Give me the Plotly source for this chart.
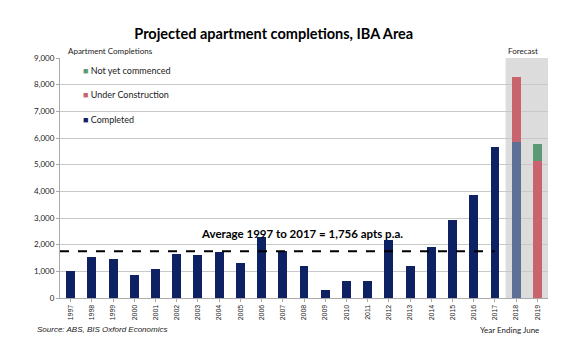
import plotly.graph_objects as go

years = [str(y) for y in range(1997, 2020)]
completed = [1030, 1550, 1450, 870, 1080, 1650, 1620, 1720, 1320, 2280, 1780, 1200,
             300, 620, 620, 2180, 1200, 1920, 2920, 3870, 5680, 5850, 0]
under_construction = [0] * 21 + [2450, 5150]
not_commenced = [0] * 21 + [0, 620]
average = 1756
y_ticks = [0, 1000, 2000, 3000, 4000, 5000, 6000, 7000, 8000, 9000]

navy = "#0d2163"
red = "#c9636d"
green = "#5b9a76"
completed_colors = [navy] * 21 + ["#5d7197", navy]

FONT = "Lato"

fig = go.Figure()
fig.add_trace(go.Bar(x=years, y=completed, name="Completed", showlegend=False,
                     marker=dict(color=completed_colors, line=dict(width=0))))
fig.add_trace(go.Bar(x=years, y=under_construction, name="Under Construction", showlegend=False,
                     marker=dict(color=red, line=dict(width=0))))
fig.add_trace(go.Bar(x=years, y=not_commenced, name="Not yet commenced", showlegend=False,
                     marker=dict(color=green, line=dict(width=0))))

# Forecast shading
fig.add_shape(type="rect", xref="x", yref="paper", x0=20.5, x1=22.5, y0=0, y1=1,
              fillcolor="#dcdcdc", line=dict(width=0), layer="below")
# Average line
fig.add_shape(type="line", xref="x", yref="y", x0=-0.5, x1=20, y0=average, y1=average,
              line=dict(color="black", width=2, dash="dash"))

# Legend as annotations (small square keys, widely spaced)
legend_items = [("Not yet commenced", green), ("Under Construction", red), ("Completed", navy)]
for i, (label, col) in enumerate(legend_items):
    fig.add_annotation(text=f"<span style='color:{col}'>■</span> {label}", xref="paper", yref="paper",
                       x=0.043, y=(298 - 70 - i * 24.5) / 240, xanchor="left", yanchor="middle",
                       showarrow=False, font=dict(family=FONT, size=9, color="#222"))

fig.add_annotation(text="<b>Average 1997 to 2017 = 1,756 apts p.a.</b>", xref="x", yref="y",
                   x=10.9, y=average, yshift=9, xanchor="center", yanchor="bottom", showarrow=False,
                   font=dict(family=FONT, size=11.5, color="black"))
fig.add_annotation(text="Apartment Completions", xref="paper", yref="paper", x=0.012, y=1.0,
                   xanchor="left", yanchor="bottom", showarrow=False,
                   font=dict(family=FONT, size=8, color="#222"))
fig.add_annotation(text="Forecast", xref="x", yref="paper", x=21.3, y=1.0,
                   xanchor="center", yanchor="bottom", showarrow=False,
                   font=dict(family=FONT, size=8, color="#222"))
fig.add_annotation(text="Year Ending June", xref="paper", yref="paper", x=0.986, y=-0.133,
                   xanchor="right", yanchor="middle", showarrow=False,
                   font=dict(family=FONT, size=8, color="#222"))
fig.add_annotation(text="<i>Source: ABS, BIS Oxford Economics</i>", xref="paper", yref="paper",
                   x=-0.051, y=-0.133, xanchor="left", yanchor="middle", showarrow=False,
                   font=dict(family="Liberation Sans", size=8, color="#222"))

fig.update_layout(
    width=580, height=352,
    margin=dict(l=60, r=32, t=58, b=54),
    paper_bgcolor="white", plot_bgcolor="white",
    barmode="stack", bargap=0.58,
    title=dict(text="<b>Projected apartment completions, IBA Area</b>", x=0.472, xanchor="center",
               y=0.905, yanchor="middle", font=dict(family=FONT, size=14.5, color="black")),
    showlegend=False,
    xaxis=dict(type="category", tickangle=-90, tickfont=dict(family="Liberation Sans", size=7, color="#222"),
               showline=True, linecolor="#aaa", linewidth=1, ticks="outside", ticklen=3,
               tickcolor="#aaa", showgrid=False, range=[-0.5, 22.5]),
    yaxis=dict(range=[0, 9000], tickvals=y_ticks, tickformat=",",
               tickfont=dict(family=FONT, size=8, color="#222"),
               showgrid=True, gridcolor="#c8c8c8", gridwidth=1, zeroline=False,
               showline=True, linecolor="#aaa", ticks="outside", ticklen=3, tickcolor="#aaa"),
    font=dict(family=FONT),
)

fig.write_html("out.html")
